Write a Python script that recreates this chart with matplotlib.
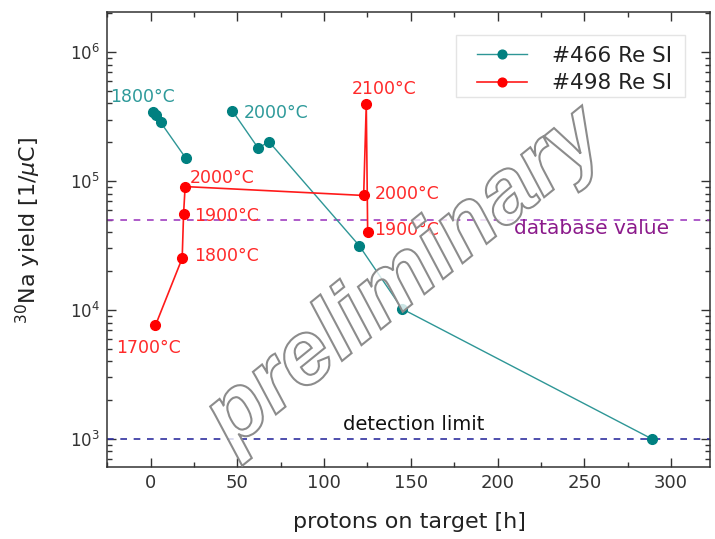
import matplotlib
matplotlib.use("Agg")
import matplotlib.pyplot as plt
from matplotlib.ticker import MultipleLocator, LogLocator, NullFormatter, FixedLocator
from matplotlib.textpath import TextPath
from matplotlib.patches import PathPatch, Rectangle
from matplotlib.font_manager import FontProperties
from matplotlib.transforms import Affine2D, IdentityTransform

# ---------------- data ----------------
series_labels = ["#466 Re SI", "#498 Re SI"]

# #466 Re SI (two runs: 1800 °C block and 2000 °C block)
teal_a_x = [1.5, 2.9, 5.8, 20.2]
teal_a_y = [3.46e5, 3.27e5, 2.85e5, 1.51e5]
teal_b_x = [47.0, 62.0, 68.2, 120.2, 145.0, 289.0]
teal_b_y = [3.52e5, 1.80e5, 2.02e5, 3.16e4, 1.02e4, 1.0e3]

# #498 Re SI
red_x = [2.8, 18.2, 19.0, 19.9, 122.8, 124.3, 125.1]
red_y = [7.6e3, 2.52e4, 5.57e4, 9.06e4, 7.73e4, 3.96e5, 4.02e4]

database_value = 5e4
detection_limit = 1e3

teal_texts = ["1800°C", "2000°C"]
teal_text_x = [-23.5, 53.4]
teal_text_y = [4.5e5, 3.37e5]

red_texts = ["1700°C", "1800°C", "1900°C", "2000°C", "2000°C", "1900°C", "2100°C"]
red_text_x = [-1.0, 25.0, 25.0, 22.6, 128.9, 128.9, 134.4]
red_text_y = [5.06e3, 2.6e4, 5.31e4, 1.06e5, 7.96e4, 4.15e4, 5.16e5]
red_text_ha = ["center", "left", "left", "left", "left", "left", "center"]

x_ticks = [0, 50, 100, 150, 200, 250, 300]

# ---------------- figure ----------------
fig = plt.figure(figsize=(7.15, 5.39), dpi=100)
ax = fig.add_axes([0.149, 0.133, 0.844, 0.845])

teal_line = "#2e9696"
teal_mark = "#008080"
red_c = "#ff1a1a"

ax.plot(teal_a_x, teal_a_y, "-o", color=teal_line, lw=1.0, ms=7,
        mfc=teal_mark, mec=teal_mark, label=series_labels[0], zorder=3)
ax.plot(teal_b_x, teal_b_y, "-o", color=teal_line, lw=1.0, ms=7,
        mfc=teal_mark, mec=teal_mark, zorder=3)
ax.plot(red_x, red_y, "-o", color=red_c, lw=1.2, ms=7,
        mfc="red", mec="red", label=series_labels[1], zorder=3)

ax.axhline(database_value, color="#a040c0", lw=1.2, ls=(0, (4, 4)), zorder=2)
ax.axhline(detection_limit, color="#3030a0", lw=1.2, ls=(0, (4, 4)), zorder=2)

ax.text(209.6, 4.32e4, "database value", color="#8b1a8b", fontsize=14.5,
        ha="left", va="center")
ax.text(151.4, 1.3e3, "detection limit", color="#111111", fontsize=14,
        ha="center", va="center")

for t, x, y in zip(teal_texts, teal_text_x, teal_text_y):
    ax.text(x, y, t, color="#2e9a9a", fontsize=12.5, ha="left", va="center",
            clip_on=False, zorder=4)
for t, x, y, ha in zip(red_texts, red_text_x, red_text_y, red_text_ha):
    ax.text(x, y, t, color="#ff2a2a", fontsize=12.5, ha=ha, va="center",
            zorder=4)

ax.set_yscale("log")
ax.set_xlim(-25.4, 322.4)
ax.set_ylim(603, 2.05e6)

ax.xaxis.set_major_locator(FixedLocator(x_ticks))
ax.xaxis.set_minor_locator(MultipleLocator(25))
ax.yaxis.set_major_locator(LogLocator(base=10, numticks=10))
ax.yaxis.set_minor_locator(LogLocator(base=10, subs=range(2, 10), numticks=20))
ax.yaxis.set_minor_formatter(NullFormatter())

for s in ax.spines.values():
    s.set_color("#333333")
    s.set_linewidth(1.1)

ax.tick_params(which="both", direction="in", top=True, right=True,
               color="#333333", width=1.0)
ax.tick_params(which="major", length=6.5)
ax.tick_params(which="minor", length=3.5)
ax.tick_params(axis="x", which="major", labelsize=13, pad=5, labelcolor="#333333")
ax.tick_params(axis="y", which="major", labelsize=12, pad=5, labelcolor="#333333")

fig.text(409.0 / 715, 1 - 522.0 / 539, "protons on target [h]", fontsize=16,
         ha="center", va="center", color="#222222")
fig.text(28.0 / 715, 1 - 230.0 / 539, r"$^{30}$Na yield [1/$\mu$C]", fontsize=16,
         ha="center", va="center", rotation=90, color="#222222")

# legend (frame drawn separately)
ax.add_patch(Rectangle((0.579, 0.8133), 0.3796, 0.1362, transform=ax.transAxes,
                       facecolor="white", edgecolor="#e4e4e4", lw=1.0, zorder=5))
leg = ax.legend(loc="upper left", bbox_to_anchor=(0.6138, 0.9254),
                borderaxespad=0, borderpad=0, fontsize=15.5, handlelength=2.32,
                handletextpad=1.16, labelspacing=0.35, frameon=False,
                markerscale=0.9)
leg.set_zorder(6)
for txt in leg.get_texts():
    txt.set_color("#222222")

# watermark "preliminary"
fp = FontProperties(family="Liberation Sans", weight="bold", style="italic")
tp = TextPath((0, 0), "preliminary", size=90, prop=fp)
tr = Affine2D().rotate_deg(39).translate(232, 539 - 450)
patch = PathPatch(tr.transform_path(tp), transform=IdentityTransform(),
                  facecolor=(1, 1, 1, 0.8), edgecolor="#8c8c8c", lw=1.5,
                  zorder=10)
fig.add_artist(patch)

fig.savefig("out.png", dpi=100)
